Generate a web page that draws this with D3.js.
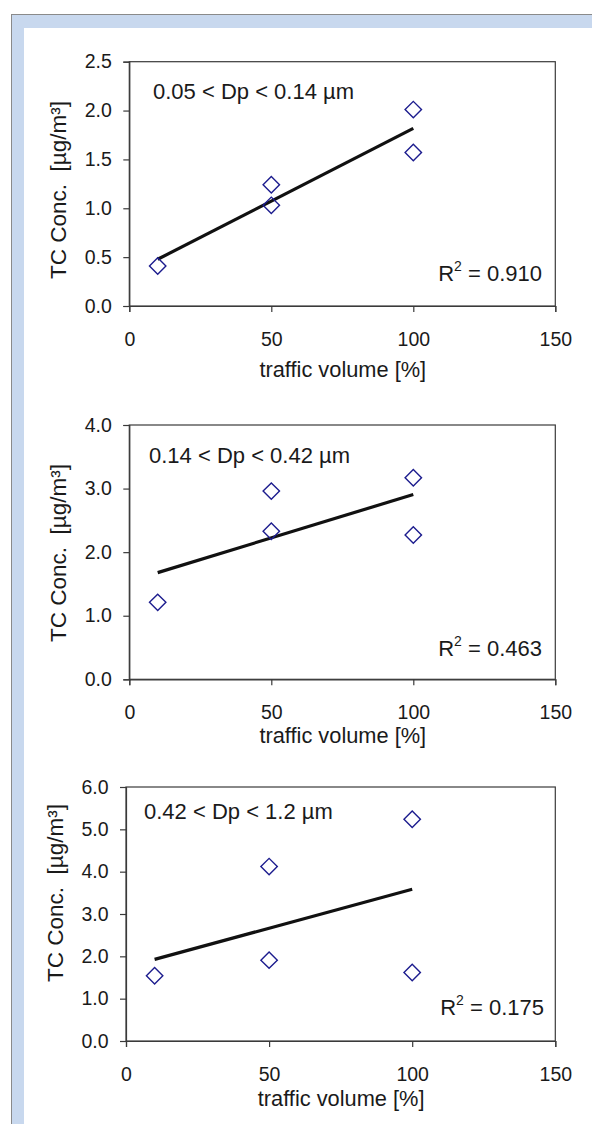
<!DOCTYPE html>
<html>
<head>
<meta charset="utf-8">
<script src="https://cdn.jsdelivr.net/npm/d3@7"></script>
<style>
  html, body { margin: 0; padding: 0; background: #fff; }
  svg { display: block; font-family: "Liberation Sans", Arial, sans-serif; }
</style>
</head>
<body>
<svg id="chart" width="592" height="1124"></svg>
<script>
// Traffic volume (%) of each sampling run and total carbon concentrations per size bin
const trafficVolume = [10, 50, 50, 100, 100];
const tcFine = [0.41, 1.24, 1.03, 2.01, 1.57];
const tcMid = [1.21, 2.96, 2.33, 3.17, 2.27];
const tcCoarse = [1.54, 4.12, 1.91, 5.24, 1.62];
const sizeRanges = ["0.05 < Dp < 0.14 µm", "0.14 < Dp < 0.42 µm", "0.42 < Dp < 1.2 µm"];
const rSquared = ["0.910", "0.463", "0.175"];
const xTicks = [0, 50, 100, 150];
const yTicksFine = [0, 0.5, 1.0, 1.5, 2.0, 2.5];
const yTicksMid = [0, 1, 2, 3, 4];
const yTicksCoarse = [0, 1, 2, 3, 4, 5, 6];

const series = [
  { values: tcFine, label: sizeRanges[0], r2: rSquared[0], ticks: yTicksFine },
  { values: tcMid, label: sizeRanges[1], r2: rSquared[1], ticks: yTicksMid },
  { values: tcCoarse, label: sizeRanges[2], r2: rSquared[2], ticks: yTicksCoarse }
];

// Panel geometry
const frames = [
  { left: 129.3, right: 555.3, top: 61.7, bottom: 306, titleY: 377, yLabelX: 66, yLabelC: 190, noteX: 153, noteY: 99, r2X: 542, r2Y: 281 },
  { left: 129.3, right: 555.3, top: 425, bottom: 679.3, titleY: 743, yLabelX: 66, yLabelC: 553, noteX: 149, noteY: 463, r2X: 542, r2Y: 656 },
  { left: 126, right: 555.3, top: 787, bottom: 1041, titleY: 1106, yLabelX: 63, yLabelC: 893, noteX: 144, noteY: 819, r2X: 544, r2Y: 1015 }
];

const svg = d3.select("#chart");

// Outer frame with light-blue inner band
svg.append("rect").attr("x", 11.5).attr("y", 14.5).attr("width", 620).attr("height", 1150)
  .attr("fill", "#c8d8ee").attr("stroke", "#8a8a8a").attr("stroke-width", 1);
svg.append("rect").attr("x", 24).attr("y", 28).attr("width", 600).attr("height", 1130)
  .attr("fill", "#ffffff");

function leastSquares(xs, ys) {
  const mx = d3.mean(xs), my = d3.mean(ys);
  let sxy = 0, sxx = 0;
  xs.forEach((x, i) => { sxy += (x - mx) * (ys[i] - my); sxx += (x - mx) * (x - mx); });
  const slope = sxy / sxx;
  return { slope, intercept: my - slope * mx };
}

const diamond = d3.symbol().type(d3.symbolSquare).size(135);

series.forEach((s, i) => {
  const f = frames[i];
  const x = d3.scaleLinear().domain([d3.min(xTicks), d3.max(xTicks)]).range([f.left, f.right]);
  const y = d3.scaleLinear().domain([d3.min(s.ticks), d3.max(s.ticks)]).range([f.bottom, f.top]);
  const g = svg.append("g");

  // plot area border
  g.append("rect")
    .attr("x", f.left).attr("y", f.top)
    .attr("width", f.right - f.left).attr("height", f.bottom - f.top)
    .attr("fill", "none").attr("stroke", "#3a3a3a").attr("stroke-width", 1.2);

  // y axis
  const yAxis = g.append("g").attr("transform", `translate(${f.left},0)`)
    .call(d3.axisLeft(y).tickValues(s.ticks).tickFormat(d3.format(".1f")).tickSize(6).tickPadding(11.5));
  // x axis
  const xAxis = g.append("g").attr("transform", `translate(0,${f.bottom})`)
    .call(d3.axisBottom(x).tickValues(xTicks).tickFormat(d3.format("d")).tickSize(6).tickPadding(20));
  [yAxis, xAxis].forEach(a => {
    a.select(".domain").attr("stroke", "#3a3a3a").attr("stroke-width", 1.2);
    a.selectAll(".tick line").attr("stroke", "#3a3a3a").attr("stroke-width", 1.2);
    a.selectAll(".tick text").attr("fill", "#1a1a1a").style("font-size", "19.5px")
      .style("font-family", "'Liberation Sans', Arial, sans-serif");
  });

  // axis titles
  g.append("text")
    .attr("x", (x(0) + x(150)) / 2 + 0.5).attr("y", f.titleY)
    .attr("text-anchor", "middle").attr("fill", "#1a1a1a").style("font-size", "21.8px")
    .text("traffic volume [%]");
  g.append("text")
    .attr("transform", `translate(${f.yLabelX},${f.yLabelC}) rotate(-90)`)
    .attr("text-anchor", "middle").attr("fill", "#1a1a1a").style("font-size", "22.5px")
    .attr("xml:space", "preserve")
    .text("TC Conc.  [µg/m³]");

  // linear trend line across the sampled traffic range
  const fit = leastSquares(trafficVolume, s.values);
  const xr = d3.extent(trafficVolume);
  g.append("line")
    .attr("x1", x(xr[0])).attr("y1", y(fit.intercept + fit.slope * xr[0]))
    .attr("x2", x(xr[1])).attr("y2", y(fit.intercept + fit.slope * xr[1]))
    .attr("stroke", "#111").attr("stroke-width", 3.2);

  // measured points as open diamonds
  g.selectAll("path.pt").data(s.values).join("path")
    .attr("class", "pt")
    .attr("d", diamond)
    .attr("transform", (d, j) => `translate(${x(trafficVolume[j])},${y(d)}) rotate(45)`)
    .attr("fill", "none").attr("stroke", "#1c1c8e").attr("stroke-width", 1.4);

  // size range annotation
  g.append("text")
    .attr("x", f.noteX).attr("y", f.noteY)
    .attr("fill", "#1a1a1a").style("font-size", "22px")
    .text(s.label);

  // coefficient of determination
  const r = g.append("text")
    .attr("x", f.r2X).attr("y", f.r2Y)
    .attr("text-anchor", "end").attr("fill", "#1a1a1a").style("font-size", "22px");
  r.append("tspan").text("R");
  r.append("tspan").attr("dy", -10).style("font-size", "14px").text("2");
  r.append("tspan").attr("dy", 10).text(" = " + s.r2);
});
</script>
</body>
</html>
